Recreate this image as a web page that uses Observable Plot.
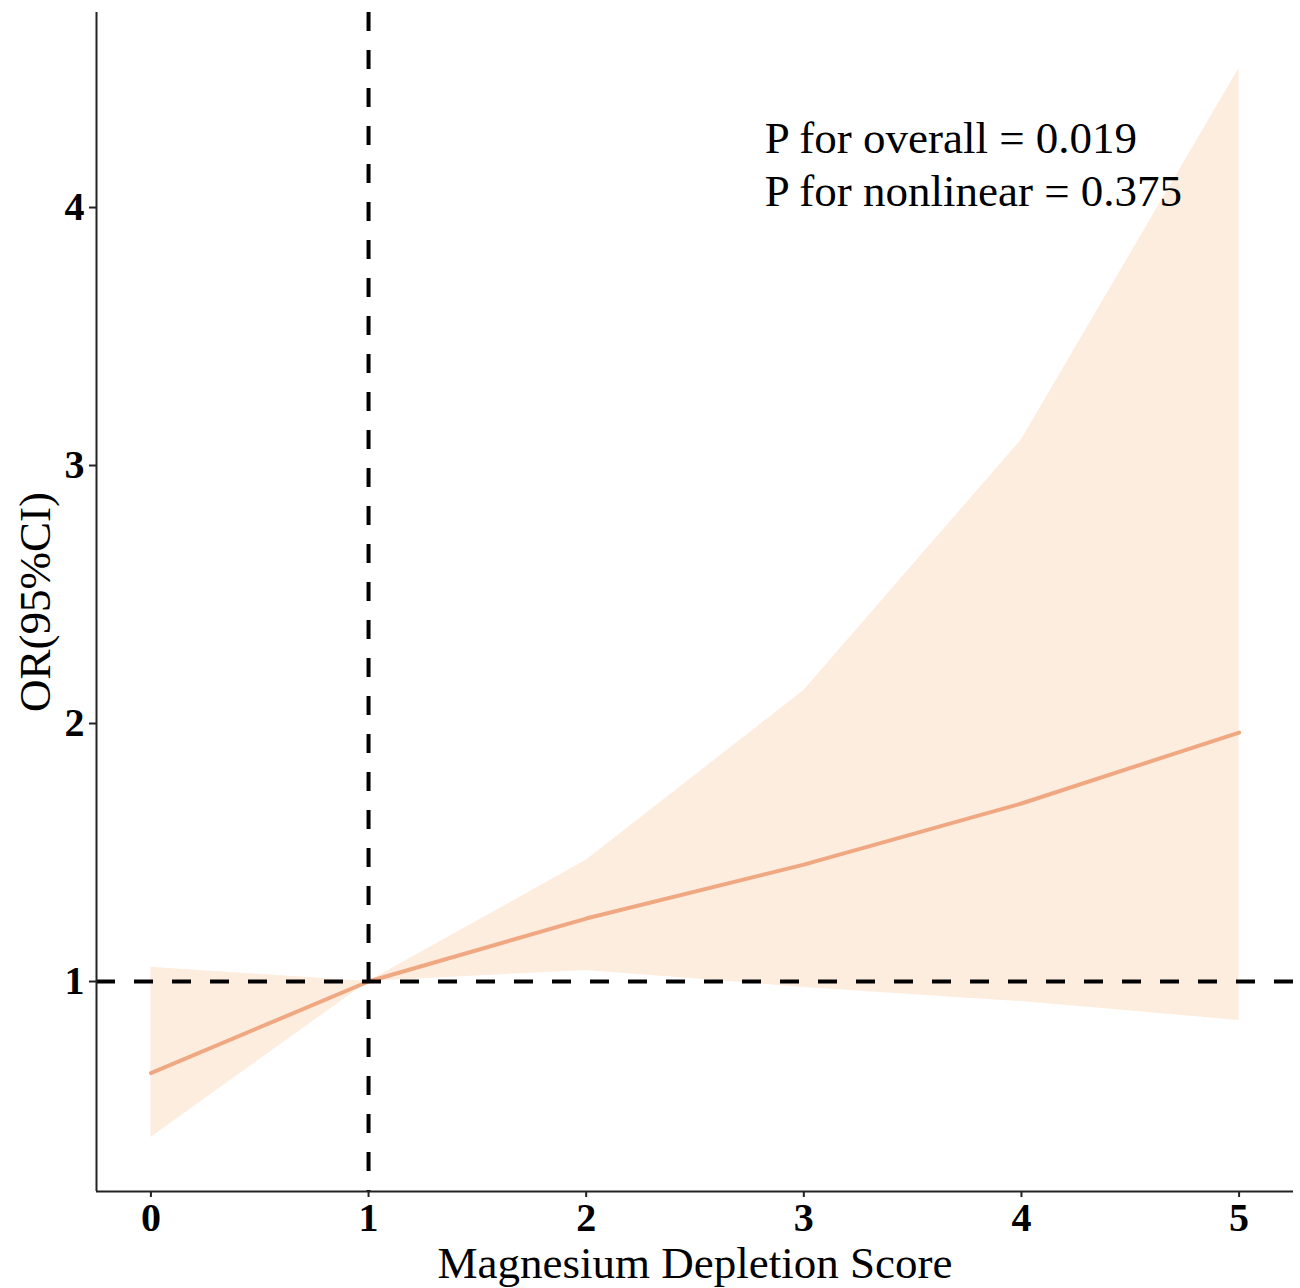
<!DOCTYPE html>
<html>
<head>
<meta charset="utf-8">
<script src="https://cdn.jsdelivr.net/npm/d3@7"></script>
<script src="https://cdn.jsdelivr.net/npm/@observablehq/plot@0.6"></script>
<style>
  html, body { margin: 0; padding: 0; background: #fff; }
  #chart svg { display: block; }
</style>
</head>
<body>
<div id="chart"></div>
<script>
// Data
const score = [0, 1, 2, 3, 4, 5];
const orValue = [0.645, 1.0, 1.244, 1.453, 1.69, 1.965];
const ciLower = [0.395, 1.0, 1.043, 0.977, 0.922, 0.849];
const ciUpper = [1.055, 1.0, 1.47, 2.128, 3.10, 4.54];
const xTicks = [0, 1, 2, 3, 4, 5];
const yTicks = [1, 2, 3, 4];
const refX = [1];
const refY = [1];
const annotLines = ["P for overall = 0.019", "P for nonlinear = 0.375"];
const annotX = [2.82, 2.82];
const annotY = [4.21, 4.005];
const xTitle = "Magnesium Depletion Score";
const yTitle = "OR(95%CI)";

const rows = score.map((s, i) => ({ x: s, or: orValue[i], lo: ciLower[i], hi: ciUpper[i] }));
const annot = annotLines.map((t, i) => ({ t, x: annotX[i], y: annotY[i] }));

const xDomain = [-0.25, 5.25];
const yDomain = [0.186, 4.756];

const chart = Plot.plot({
  width: 1300,
  height: 1288,
  marginLeft: 96,
  marginRight: 7,
  marginTop: 12,
  marginBottom: 97,
  style: { fontFamily: "'Liberation Serif', 'Times New Roman', serif", background: "#fff", color: "#000" },
  x: { domain: xDomain, axis: null },
  y: { domain: yDomain, axis: null },
  marks: [
    Plot.areaY(rows, { x: "x", y1: "lo", y2: "hi", fill: "#FDEDDF", fillOpacity: 1 }),
    Plot.lineY(rows, { x: "x", y: "or", stroke: "#F0A882", strokeWidth: 4 }),
    Plot.ruleY(refY, { stroke: "#000", strokeWidth: 4, strokeDasharray: "19,19" }),
    Plot.ruleX(refX, { stroke: "#000", strokeWidth: 4, strokeDasharray: "19,19" }),
    // axis lines
    Plot.ruleX([xDomain[0]], { stroke: "#222", strokeWidth: 2 }),
    Plot.ruleY([yDomain[0]], { stroke: "#222", strokeWidth: 2 }),
    Plot.axisX({ ticks: xTicks, tickFormat: "d", tickSize: 6, tickPadding: 5, fontSize: 40, fontWeight: "bold", stroke: "#222", strokeWidth: 2, label: null }),
    Plot.axisY({ ticks: yTicks, tickFormat: "d", tickSize: 7, tickPadding: 5, fontSize: 40, fontWeight: "bold", stroke: "#222", strokeWidth: 2, label: null }),
    Plot.text(annot, { x: "x", y: "y", text: "t", textAnchor: "start", lineAnchor: "bottom", fontSize: 45, fill: "#000" }),
    Plot.text([xTitle], { frameAnchor: "bottom", text: d => d, textAnchor: "middle", lineAnchor: "middle", dy: 72, fontSize: 45, fill: "#000" }),
    Plot.text([yTitle], { frameAnchor: "left", text: d => d, textAnchor: "middle", lineAnchor: "middle", dx: -61, rotate: -90, fontSize: 45, fill: "#000" })
  ]
});

document.getElementById("chart").appendChild(chart);
</script>
</body>
</html>
